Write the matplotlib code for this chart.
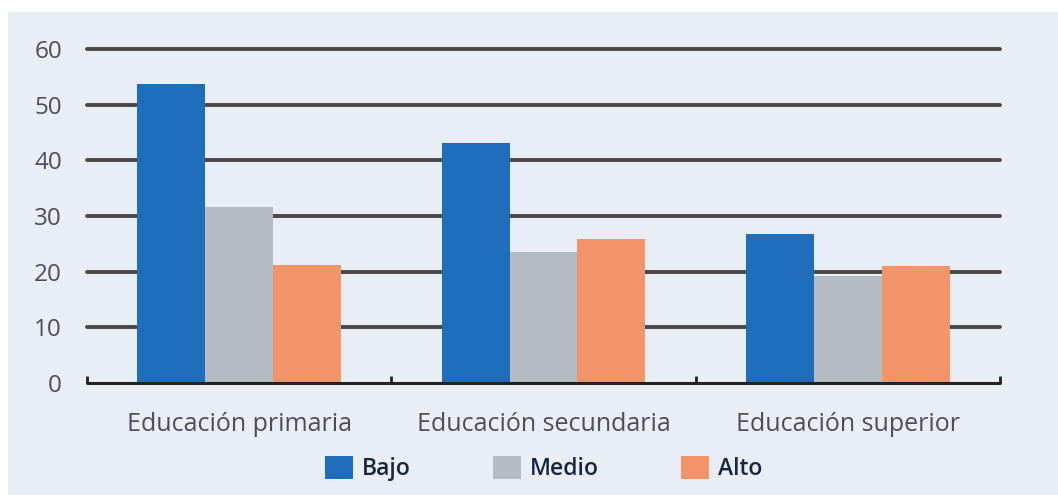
import matplotlib.pyplot as plt
import numpy as np
from matplotlib.patches import Rectangle

plt.rcParams['font.family'] = ['Open Sans', 'DejaVu Sans']

categories = ["Educación primaria", "Educación secundaria", "Educación superior"]
series_names = ["Bajo", "Medio", "Alto"]
bajo = [53.8, 43.1, 26.8]
medio = [31.6, 23.5, 19.3]
alto = [21.2, 25.9, 21.0]
y_ticks = [0, 10, 20, 30, 40, 50, 60]

colors = ["#1f6ebb", "#b3bcc3", "#f19468"]
bg = "#e9eef5"

fig = plt.figure(figsize=(10.58, 4.95), dpi=100)
fig.patch.set_facecolor("white")
# panel de fondo
fig.patches.append(Rectangle((8 / 1058, 0), 1, 1 - 12 / 495, transform=fig.transFigure,
                             facecolor=bg, edgecolor="none", zorder=-10))

ax = fig.add_axes([87 / 1058, 1 - 383 / 495, 913 / 1058, (383 - 49) / 495])
ax.set_facecolor("none")
ax.set_zorder(2)

x = np.arange(len(categories))
w = 0.223
for i, (vals, name) in enumerate(zip([bajo, medio, alto], series_names)):
    ax.bar(x + (i - 1) * w, vals, width=w, color=colors[i], label=name, zorder=3)

ax.set_xlim(-0.5, 2.5)
ax.set_ylim(0, 60)

# líneas horizontales
for t in y_ticks[1:]:
    ax.axhline(t, color="#474747", lw=2.8, solid_capstyle="round", zorder=1, clip_on=False)
ax.axhline(0, color="#222222", lw=2.2, solid_capstyle="round", zorder=4, clip_on=False)

for s in ax.spines.values():
    s.set_visible(False)

ax.set_yticks(y_ticks)
ax.tick_params(axis="y", length=0, pad=18, labelsize=17.5, labelcolor="#4d4d5c")
ax.set_xticks(x)
ax.set_xticklabels(categories)
ax.tick_params(axis="x", which="major", length=0, pad=21, labelsize=18, labelcolor="#4d4d5c")
ax.set_xticks([-0.5, 0.5, 1.5, 2.5], minor=True)
ax.tick_params(axis="x", which="minor", direction="in", length=5, width=2, color="#222222")

fig.legend(loc="center", bbox_to_anchor=(0.514, 0.054), ncol=3, frameon=False,
           handlelength=1.2, handleheight=1.2, handletextpad=0.4,
           columnspacing=3.6, prop={"weight": "semibold", "size": 16.5},
           labelcolor="#1a2540")

fig.savefig("out.png", dpi=100, facecolor=fig.get_facecolor())
